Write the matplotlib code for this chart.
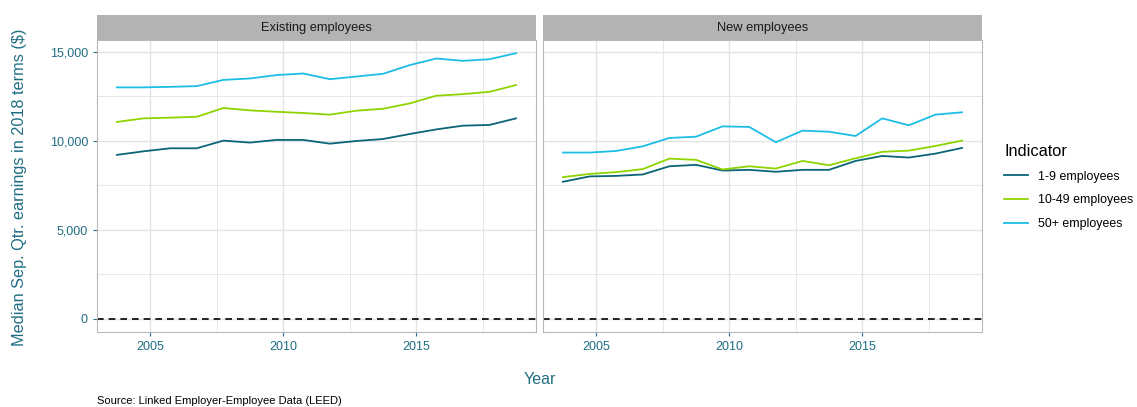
import numpy as np
import matplotlib
matplotlib.use("Agg")
import matplotlib.pyplot as plt
from matplotlib.ticker import FuncFormatter, MultipleLocator

plt.rcParams['font.family'] = ['Liberation Sans', 'DejaVu Sans']

# data
years = [2003.75 + i for i in range(16)]
panels = ["Existing employees", "New employees"]
indicators = ["1-9 employees", "10-49 employees", "50+ employees"]

existing_1_9 = [9200, 9400, 9570, 9570, 10000, 9890, 10040, 10040, 9830, 9980,
                10090, 10370, 10630, 10840, 10880, 11250]
existing_10_49 = [11050, 11250, 11290, 11340, 11830, 11700, 11620, 11550, 11460, 11680,
                  11790, 12090, 12520, 12610, 12740, 13120]
existing_50 = [12990, 12990, 13020, 13060, 13410, 13490, 13680, 13770, 13450, 13600,
               13750, 14240, 14610, 14480, 14570, 14910]

new_1_9 = [7690, 7990, 8020, 8100, 8560, 8640, 8320, 8360, 8250, 8360,
           8360, 8860, 9140, 9050, 9270, 9590]
new_10_49 = [7950, 8130, 8230, 8400, 8990, 8920, 8380, 8560, 8430, 8860,
             8620, 9010, 9370, 9440, 9700, 10000]
new_50 = [9330, 9330, 9420, 9680, 10150, 10220, 10800, 10770, 9910, 10560,
          10500, 10260, 11250, 10860, 11460, 11590]

series = {
    "Existing employees": [existing_1_9, existing_10_49, existing_50],
    "New employees": [new_1_9, new_10_49, new_50],
}
colors = ["#0b6577", "#8fd400", "#1dbde6"]
teal = "#1f6e84"
grid_col = "#e3e3e3"

fig = plt.figure(figsize=(11.37, 4.07), dpi=100)
W, H = 1137, 407
left_px = [97, 543]
pw = 439
top_px, bot_px = 40, 332
strip_h = 25

axes = []
for i, name in enumerate(panels):
    ax = fig.add_axes([left_px[i] / W, 1 - bot_px / H, pw / W, (bot_px - top_px) / H])
    for vals, c, lab in zip(series[name], colors, indicators):
        ax.plot(years, vals, color=c, lw=1.3, label=lab)
    ax.axhline(0, color="black", lw=1.2, ls=(0, (4, 3)))
    ax.set_xlim(2003.0, 2019.5)
    ax.set_ylim(-745, 15650)
    ax.xaxis.set_major_locator(MultipleLocator(5))
    ax.xaxis.set_minor_locator(MultipleLocator(2.5))
    ax.yaxis.set_major_locator(MultipleLocator(5000))
    ax.yaxis.set_minor_locator(MultipleLocator(2500))
    ax.grid(which="major", color=grid_col, lw=1.0)
    ax.grid(which="minor", color=grid_col, lw=0.6)
    ax.set_axisbelow(True)
    for s in ax.spines.values():
        s.set_color("#b8b8b8")
        s.set_linewidth(0.8)
    ax.tick_params(which="minor", length=0)
    ax.tick_params(which="major", colors=teal, labelsize=9, length=3, width=0.8)
    ax.yaxis.set_major_formatter(FuncFormatter(lambda v, p: f"{int(v):,}"))
    if i == 1:
        ax.tick_params(axis="y", labelleft=False, length=0)
    # facet strip
    sax = fig.add_axes([left_px[i] / W, 1 - top_px / H, pw / W, strip_h / H])
    sax.set_facecolor("#b3b3b3")
    sax.set_xticks([])
    sax.set_yticks([])
    for s in sax.spines.values():
        s.set_visible(False)
    sax.text(0.5, 0.5, name, ha="center", va="center", fontsize=9.3, color="#1a1a1a",
             transform=sax.transAxes)
    axes.append(ax)

fig.text(20 / W, 1 - 187 / H, "Median Sep. Qtr. earnings in 2018 terms ($)", color=teal,
         fontsize=11.7, rotation=90, ha="center", va="center")
fig.text(540 / W, 1 - 380 / H, "Year", color=teal, fontsize=11.5, ha="center", va="center")
fig.text(97 / W, 1 - 401 / H, "Source: Linked Employer-Employee Data (LEED)", fontsize=8,
         ha="left", va="center", color="black")

handles, labels = axes[0].get_legend_handles_labels()
leg = fig.legend(handles, labels, title="Indicator", loc="center left",
                 bbox_to_anchor=(993 / W, 1 - 187 / H), frameon=False, fontsize=8.9,
                 title_fontsize=11.8, handlelength=1.9, labelspacing=0.95, handletextpad=0.8)
leg._legend_box.align = "left"

fig.savefig("out.png", dpi=100)
